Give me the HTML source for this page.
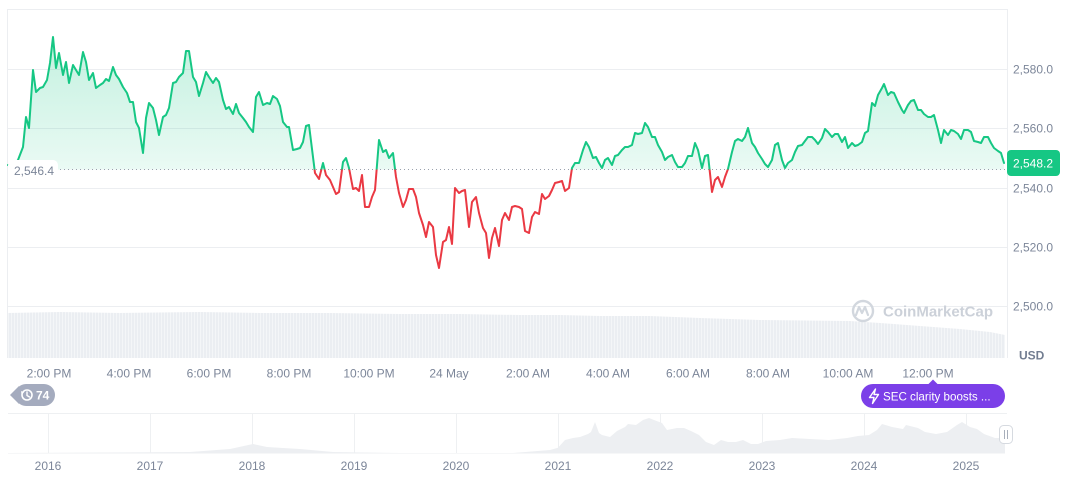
<!DOCTYPE html>
<html><head><meta charset="utf-8">
<style>
html,body{margin:0;padding:0;background:#fff;}
body{width:1072px;height:477px;overflow:hidden;}
svg{display:block;font-family:"Liberation Sans",sans-serif;}
.ax{font-size:12px;fill:#7c8699;}
</style></head>
<body>
<svg width="1072" height="477" viewBox="0 0 1072 477" xmlns="http://www.w3.org/2000/svg">
<defs>
<linearGradient id="gG" gradientUnits="userSpaceOnUse" x1="0" y1="35" x2="0" y2="170">
<stop offset="0" stop-color="#16c784" stop-opacity="0.26"/>
<stop offset="1" stop-color="#16c784" stop-opacity="0.09"/>
</linearGradient>
<linearGradient id="gR" gradientUnits="userSpaceOnUse" x1="0" y1="169.5" x2="0" y2="270">
<stop offset="0" stop-color="#ea3943" stop-opacity="0.06"/>
<stop offset="1" stop-color="#ea3943" stop-opacity="0.26"/>
</linearGradient>
<clipPath id="cA"><rect x="0" y="0" width="1072" height="169.5"/></clipPath>
<clipPath id="cB"><rect x="0" y="169.5" width="1072" height="200"/></clipPath>
<pattern id="vp" width="3" height="10" patternUnits="userSpaceOnUse">
<rect x="0" y="0" width="2.2" height="10" fill="#ebeef2"/>
<rect x="2.2" y="0" width="0.8" height="10" fill="#f4f5f7"/>
</pattern>
</defs>

<!-- grid -->
<g stroke="#eceef1" stroke-width="1">
<line x1="8" y1="9.5" x2="1007" y2="9.5"/>
<line x1="8" y1="69.5" x2="1007" y2="69.5"/>
<line x1="8" y1="128.5" x2="1007" y2="128.5"/>
<line x1="8" y1="188.5" x2="1007" y2="188.5"/>
<line x1="8" y1="247.5" x2="1007" y2="247.5"/>
<line x1="8" y1="306.5" x2="1007" y2="306.5"/>
<line x1="7.5" y1="9" x2="7.5" y2="358"/>
<line x1="1007.5" y1="9" x2="1007.5" y2="358"/>
</g>

<!-- volume -->
<polygon fill="url(#vp)" points="8,358 8,313 60,312 120,313 200,312 260,313 330,313 400,314 460,314 520,315 560,315 600,316 650,316 700,318 760,320 850,321 880,323 920,326 960,329 990,332 1005,335 1005,358"/>

<!-- watermark -->
<g>
<circle cx="863" cy="311" r="10" fill="none" stroke="#d2d7de" stroke-width="2.4"/>
<path d="M856,315 L859,307 L862,313 L865,307 L868,315" fill="none" stroke="#d2d7de" stroke-width="2.2" stroke-linejoin="round" stroke-linecap="round"/>
<text x="883" y="316.5" font-size="15" font-weight="bold" fill="#ccd1d9">CoinMarketCap</text>
</g>

<!-- area fills -->
<path id="area" d="M8,169.5 L8,165 13,166 18,160 23,147 26,117 29,128 33,70 36,92 40,88 43,87 47,80 50,63 53,37 56,68 59,53 63,75 66,62 69,83 73,65 76,70 79,75 83,52 86,62 89,80 93,73 96,88 100,85 103,83 106,79 109,81 113,67 116,75 119,79 123,87 127,93 130,102 133,102 136,122 139,128 143,153 146,118 149,103 153,108 156,120 159,135 163,117 166,115 169,108 173,83 176,82 179,77 183,73 186,51 189,51 193,77 196,82 199,96 203,83 206,72 209,77 213,83 216,78 219,82 223,100 226,109 229,107 233,114 236,104 239,113 243,118 246,122 249,127 253,132 256,97 259,92 263,105 267,103 270,104 273,96 277,99 280,106 283,122 287,127 289,127 293,150 297,149 300,148 303,142 306,126 309,125 315,173 319,179 323,163 326,175 330,180 336,194 339,192 343,162 346,158 349,168 353,189 356,188 359,191 362,175 365,207 369,207 372,197 375,190 379,140 383,152 386,150 389,158 393,153 396,177 399,193 403,207 406,200 409,189 413,189 416,197 419,213 423,225 426,237 429,222 433,227 436,255 439,268 443,242 446,240 449,227 452,244 455,188 459,193 462,191 465,190 469,227 472,202 476,197 479,213 483,228 486,233 489,258 492,238 495,228 499,246 502,220 505,213 509,220 512,207 515,206 519,207 522,209 525,231 529,233 532,217 535,212 539,214 542,194 545,199 549,196 552,190 555,183 559,182 562,181 565,191 569,188 572,168 575,163 579,163 583,150 586,142 589,147 593,158 596,157 599,163 602,168 605,160 608,158 612,165 615,156 618,155 622,150 625,147 628,147 632,145 635,133 638,134 642,133 645,123 648,127 652,137 655,137 658,145 662,152 665,160 668,157 672,155 675,162 678,167 682,167 685,163 688,156 692,156 695,143 698,150 702,168 705,156 708,155 712,192 715,180 718,177 722,187 725,177 728,169 732,152 735,141 738,139 742,141 745,137 748,128 752,143 755,147 758,153 762,159 765,164 768,167 772,160 775,145 778,143 782,160 785,168 788,163 792,160 795,152 798,146 802,145 805,141 808,137 812,137 815,140 818,144 822,138 825,129 828,132 832,137 835,134 838,134 842,142 845,137 848,148 852,143 855,146 858,145 862,142 865,133 868,131 872,103 875,106 878,95 882,88 884,84 888,95 891,92 894,93 898,102 902,110 904,113 908,105 911,101 914,100 918,110 921,110 924,114 928,117 931,117 934,115 938,130 941,143 944,130 948,135 951,130 954,131 958,134 961,139 964,130 968,130 971,132 974,141 978,142 981,143 984,137 988,137 991,143 994,148 998,151 1001,153 1004,163 L1004,169.5 Z" fill="url(#gG)" clip-path="url(#cA)"/>
<use href="#area" fill="url(#gR)" clip-path="url(#cB)"/>

<!-- baseline dotted -->
<line x1="8" y1="169.5" x2="1007" y2="169.5" stroke="#9aa1ad" stroke-width="1" stroke-dasharray="1,3"/>

<!-- line -->
<polyline id="ln" fill="none" stroke-width="2" stroke-linejoin="round" stroke-linecap="round" points="8,165 13,166 18,160 23,147 26,117 29,128 33,70 36,92 40,88 43,87 47,80 50,63 53,37 56,68 59,53 63,75 66,62 69,83 73,65 76,70 79,75 83,52 86,62 89,80 93,73 96,88 100,85 103,83 106,79 109,81 113,67 116,75 119,79 123,87 127,93 130,102 133,102 136,122 139,128 143,153 146,118 149,103 153,108 156,120 159,135 163,117 166,115 169,108 173,83 176,82 179,77 183,73 186,51 189,51 193,77 196,82 199,96 203,83 206,72 209,77 213,83 216,78 219,82 223,100 226,109 229,107 233,114 236,104 239,113 243,118 246,122 249,127 253,132 256,97 259,92 263,105 267,103 270,104 273,96 277,99 280,106 283,122 287,127 289,127 293,150 297,149 300,148 303,142 306,126 309,125 315,173 319,179 323,163 326,175 330,180 336,194 339,192 343,162 346,158 349,168 353,189 356,188 359,191 362,175 365,207 369,207 372,197 375,190 379,140 383,152 386,150 389,158 393,153 396,177 399,193 403,207 406,200 409,189 413,189 416,197 419,213 423,225 426,237 429,222 433,227 436,255 439,268 443,242 446,240 449,227 452,244 455,188 459,193 462,191 465,190 469,227 472,202 476,197 479,213 483,228 486,233 489,258 492,238 495,228 499,246 502,220 505,213 509,220 512,207 515,206 519,207 522,209 525,231 529,233 532,217 535,212 539,214 542,194 545,199 549,196 552,190 555,183 559,182 562,181 565,191 569,188 572,168 575,163 579,163 583,150 586,142 589,147 593,158 596,157 599,163 602,168 605,160 608,158 612,165 615,156 618,155 622,150 625,147 628,147 632,145 635,133 638,134 642,133 645,123 648,127 652,137 655,137 658,145 662,152 665,160 668,157 672,155 675,162 678,167 682,167 685,163 688,156 692,156 695,143 698,150 702,168 705,156 708,155 712,192 715,180 718,177 722,187 725,177 728,169 732,152 735,141 738,139 742,141 745,137 748,128 752,143 755,147 758,153 762,159 765,164 768,167 772,160 775,145 778,143 782,160 785,168 788,163 792,160 795,152 798,146 802,145 805,141 808,137 812,137 815,140 818,144 822,138 825,129 828,132 832,137 835,134 838,134 842,142 845,137 848,148 852,143 855,146 858,145 862,142 865,133 868,131 872,103 875,106 878,95 882,88 884,84 888,95 891,92 894,93 898,102 902,110 904,113 908,105 911,101 914,100 918,110 921,110 924,114 928,117 931,117 934,115 938,130 941,143 944,130 948,135 951,130 954,131 958,134 961,139 964,130 968,130 971,132 974,141 978,142 981,143 984,137 988,137 991,143 994,148 998,151 1001,153 1004,163"/>
<use href="#ln" stroke="#16c784" clip-path="url(#cA)"/>
<use href="#ln" stroke="#ea3943" clip-path="url(#cB)"/>

<!-- left reference label -->
<rect x="8" y="160" width="50" height="18" rx="5" fill="#ffffff"/>
<text x="14" y="175" class="ax">2,546.4</text>

<!-- y axis labels -->
<text x="1013" y="73.5" class="ax">2,580.0</text>
<text x="1013" y="132.5" class="ax">2,560.0</text>
<text x="1013" y="192.5" class="ax">2,540.0</text>
<text x="1013" y="251.5" class="ax">2,520.0</text>
<text x="1013" y="310.5" class="ax">2,500.0</text>
<text x="1019" y="359.5" font-size="12" font-weight="bold" fill="#727d91">USD</text>

<!-- price badge -->
<rect x="1007" y="150" width="53" height="26" rx="4" fill="#16c784"/>
<text x="1013" y="167.5" font-size="12" fill="#ffffff">2,548.2</text>

<!-- x axis labels -->
<g class="ax" text-anchor="middle">
<text x="49" y="377.5">2:00 PM</text>
<text x="129" y="377.5">4:00 PM</text>
<text x="209" y="377.5">6:00 PM</text>
<text x="289" y="377.5">8:00 PM</text>
<text x="369" y="377.5">10:00 PM</text>
<text x="449" y="377.5">24 May</text>
<text x="528" y="377.5">2:00 AM</text>
<text x="608" y="377.5">4:00 AM</text>
<text x="688" y="377.5">6:00 AM</text>
<text x="768" y="377.5">8:00 AM</text>
<text x="848" y="377.5">10:00 AM</text>
<text x="928" y="377.5">12:00 PM</text>
</g>

<!-- 74 badge -->
<g>
<rect x="15" y="384" width="40" height="22" rx="11" fill="#a4abbe"/>
<polygon points="10,395 19,386 19,404" fill="#a4abbe"/>
<circle cx="27" cy="395" r="5" fill="none" stroke="#fff" stroke-width="1.6"/>
<path d="M27,392 L27,395.5 L29.5,397" fill="none" stroke="#fff" stroke-width="1.4" stroke-linecap="round"/>
<polygon points="21,391 24,392.5 21.5,394.5" fill="#fff"/>
<text x="36" y="399.5" font-size="12" font-weight="bold" fill="#ffffff">74</text>
</g>

<!-- SEC badge -->
<g>
<polygon points="928,384.5 933,379.5 938,384.5" fill="#7b3fe8"/>
<rect x="861" y="384" width="144" height="24" rx="12" fill="#7b3fe8"/>
<path d="M875.5,389 L869.5,397.5 L874,397.5 L872.5,403.5 L878.5,394.5 L874,394.5 Z" fill="none" stroke="#fff" stroke-width="1.4" stroke-linejoin="round"/>
<text x="883" y="400.5" font-size="11.6" fill="#ffffff">SEC clarity boosts ...</text>
</g>

<!-- navigator -->
<line x1="8" y1="413.5" x2="1007" y2="413.5" stroke="#eef0f2" stroke-width="1"/>
<g stroke="#eef0f2" stroke-width="1">
<line x1="48.5" y1="414" x2="48.5" y2="453"/>
<line x1="150.5" y1="414" x2="150.5" y2="453"/>
<line x1="252.5" y1="414" x2="252.5" y2="453"/>
<line x1="354.5" y1="414" x2="354.5" y2="453"/>
<line x1="456.5" y1="414" x2="456.5" y2="453"/>
<line x1="558.5" y1="414" x2="558.5" y2="453"/>
<line x1="660.5" y1="414" x2="660.5" y2="453"/>
<line x1="762.5" y1="414" x2="762.5" y2="453"/>
<line x1="864.5" y1="414" x2="864.5" y2="453"/>
<line x1="966.5" y1="414" x2="966.5" y2="453"/>
</g>
<polygon fill="#edeff2" points="8,453.5 8,453 190,452 230,449 253,444 267,447 283,448 300,449 333,452 400,453 513,453 550,450 558,447.7 565,440 573,438 580,437 588,434 591,432 595,422 599,433 602,435 610,437 617,431 625,427 628,424 636,425 643,420 649,418 654,420 662,423 667,430 677,428 684,428 691,431 699,435 706,442 714,445 721,440 728,442 736,442 743,440 751,444 758,444 766,441 780,440 792,438 810,439 829,440 847,438 858,436 869,435 877,430 882,424 892,427 903,429 906,425 918,428 925,432 936,434 947,432 957,425 962,422 970,427 977,429 984,434 995,438 1005,438 1005,453.5"/>
<g>
<rect x="999.5" y="425.5" width="13" height="18" rx="4" fill="#ffffff" stroke="#d6dae0" stroke-width="1"/>
<line x1="1004.5" y1="430" x2="1004.5" y2="439" stroke="#a8afbb" stroke-width="1"/>
<line x1="1007.5" y1="430" x2="1007.5" y2="439" stroke="#a8afbb" stroke-width="1"/>
</g>
<g class="ax" text-anchor="middle">
<text x="48" y="470">2016</text>
<text x="150" y="470">2017</text>
<text x="252" y="470">2018</text>
<text x="354" y="470">2019</text>
<text x="456" y="470">2020</text>
<text x="558" y="470">2021</text>
<text x="660" y="470">2022</text>
<text x="762" y="470">2023</text>
<text x="864" y="470">2024</text>
<text x="966" y="470">2025</text>
</g>
</svg>
</body></html>
